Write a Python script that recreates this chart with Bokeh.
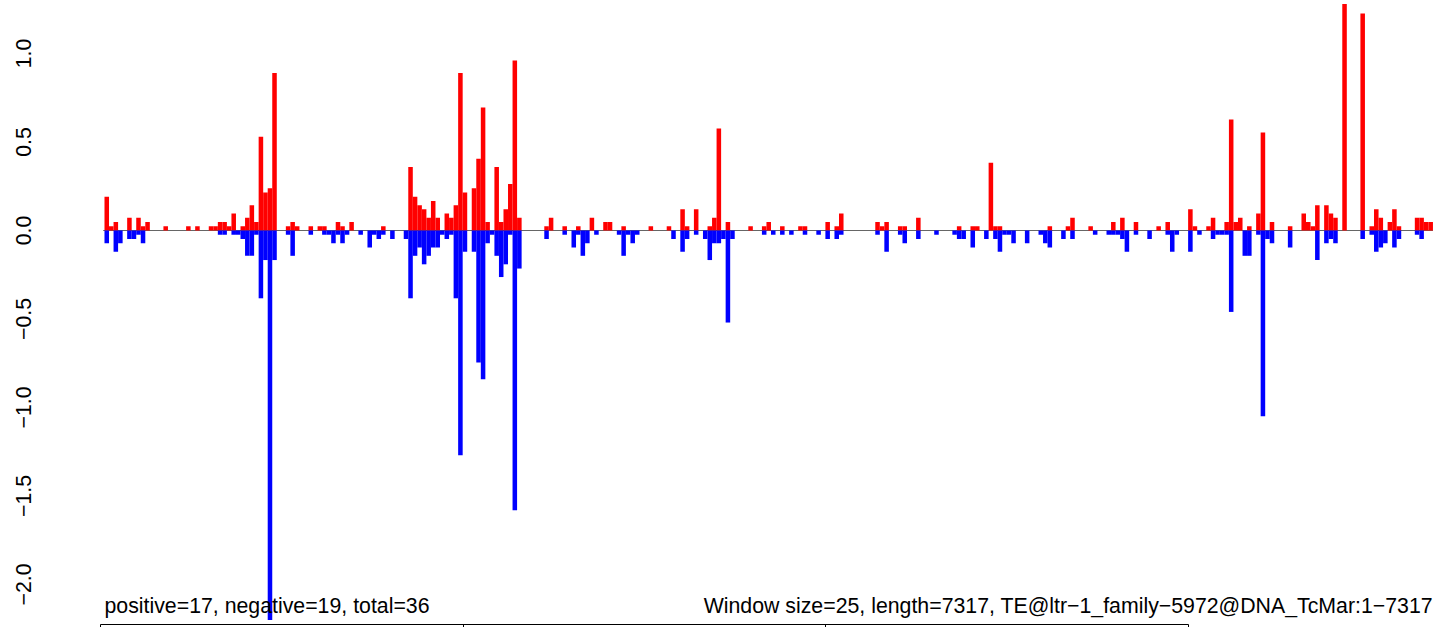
import math
from bokeh.plotting import figure
from bokeh.models import Range1d, FixedTicker, Label, LinearAxis, ColumnDataSource
from bokeh.embed import file_html
from bokeh.resources import INLINE

WINDOW = 25
N_BINS = 293
X_OFFSET = 22

pos_bins = [0, 1, 2, 5, 7, 8, 9, 13, 18, 20, 23, 24, 25, 26, 27, 28, 30, 31, 32, 33, 34, 35, 36, 37,
            40, 41, 42, 45, 47, 48, 51, 52, 54, 61, 67, 68, 69, 70, 71, 72, 73, 75, 76, 77, 78, 79,
            81, 82, 83, 84, 86, 87, 88, 89, 90, 91, 97, 98, 101, 104, 107, 110, 111, 114, 120, 124,
            127, 128, 130, 133, 134, 135, 137, 142, 145, 146, 149, 153, 154, 159, 161, 162, 170, 171,
            172, 175, 176, 179, 188, 191, 192, 195, 196, 197, 208, 212, 213, 217, 222, 224, 227, 232,
            234, 239, 240, 243, 244, 247, 248, 249, 250, 252, 254, 255, 257, 261, 264, 265, 266, 267,
            269, 270, 271, 273, 277, 279, 280, 281, 283, 284, 285, 289, 290, 291, 292]
pos_vals = [0.191, 0.024, 0.048, 0.072, 0.072, 0.024, 0.048, 0.024, 0.024, 0.024, 0.024, 0.024, 0.048,
            0.048, 0.024, 0.096, 0.024, 0.072, 0.143, 0.048, 0.53, 0.215, 0.239, 0.89,
            0.024, 0.048, 0.024, 0.024, 0.024, 0.024, 0.048, 0.024, 0.048, 0.024, 0.359, 0.191, 0.143,
            0.12, 0.072, 0.167, 0.072, 0.096, 0.072, 0.143, 0.89, 0.215,
            0.239, 0.406, 0.695, 0.048, 0.359, 0.048, 0.12, 0.263, 0.96, 0.072, 0.024, 0.072, 0.024,
            0.024, 0.072, 0.048, 0.048, 0.024, 0.024, 0.024,
            0.12, 0.024, 0.12, 0.024, 0.072, 0.576, 0.048, 0.024, 0.024, 0.048, 0.024, 0.024, 0.024,
            0.048, 0.024, 0.096, 0.048, 0.024,
            0.048, 0.024, 0.024, 0.072, 0.024, 0.024, 0.024, 0.383, 0.024, 0.024, 0.024, 0.024, 0.072,
            0.024, 0.048, 0.072, 0.048, 0.024,
            0.048, 0.12, 0.024, 0.024, 0.072, 0.048, 0.627, 0.048, 0.072, 0.024, 0.096, 0.554, 0.048,
            0.024, 0.096, 0.048, 0.024, 0.143,
            0.143, 0.096, 0.072, 1.28, 1.226, 0.024, 0.12, 0.072, 0.048, 0.12, 0.024, 0.072, 0.072,
            0.048, 0.048]

neg_bins = [0, 2, 3, 5, 6, 7, 8, 25, 26, 28, 29, 30, 31, 32, 33, 34, 35, 36, 37, 40, 41, 45, 48, 49,
            50, 51, 52, 53, 56, 58, 59, 60, 61, 63, 66, 67, 68, 69, 70, 71, 72, 73, 74, 75, 76, 77,
            78, 79, 81, 82, 83, 84, 85, 86, 87, 88, 89, 90, 91, 97, 101, 103, 104, 105, 106, 108, 113,
            114, 115, 116, 117, 125, 127, 128, 130, 132, 133, 134, 135, 136, 137, 138, 145, 147, 149,
            151, 154, 157, 159, 161, 162, 170, 172, 175, 176, 179, 183, 187, 188, 189, 191, 194, 196,
            197, 198, 199, 200, 203, 206, 207, 208, 211, 213, 218, 221, 222, 223, 224, 225, 227, 230,
            234, 235, 236, 239, 241, 244, 245, 246, 247, 248, 251, 252, 254, 255, 256, 257, 261, 267,
            269, 270, 271, 277, 279, 280, 281, 282, 284, 285, 289, 290]
neg_vals = [0.072, 0.12, 0.072, 0.048, 0.048, 0.024, 0.072, 0.024, 0.024, 0.024, 0.024, 0.048, 0.143,
            0.143, 0.024, 0.383, 0.167, 2.2, 0.167, 0.024, 0.143, 0.024, 0.024, 0.024,
            0.072, 0.024, 0.072, 0.024, 0.024, 0.096, 0.024, 0.048, 0.024, 0.048, 0.048, 0.383, 0.143,
            0.096, 0.191, 0.143, 0.096, 0.096, 0.024, 0.048, 0.024, 0.383,
            1.27, 0.12, 0.12, 0.746, 0.84, 0.072, 0.024, 0.143, 0.263, 0.191, 0.024, 1.58, 0.215,
            0.048, 0.024, 0.096, 0.024, 0.143, 0.072, 0.024, 0.024,
            0.143, 0.024, 0.072, 0.024, 0.048, 0.12, 0.048, 0.024, 0.048, 0.167, 0.072, 0.072, 0.048,
            0.52, 0.048, 0.024, 0.024, 0.024,
            0.024, 0.024, 0.024, 0.048, 0.048, 0.024, 0.024, 0.12, 0.024, 0.072, 0.048, 0.024, 0.024,
            0.048, 0.048, 0.096, 0.048, 0.048,
            0.12, 0.024, 0.024, 0.072, 0.072, 0.024, 0.072, 0.096, 0.048, 0.048, 0.024, 0.024, 0.024,
            0.024, 0.048, 0.12, 0.024, 0.048,
            0.024, 0.12, 0.024, 0.12, 0.024, 0.048, 0.024, 0.024, 0.024, 0.46, 0.143, 0.143, 0.024,
            1.05, 0.048, 0.072, 0.096, 0.167,
            0.072, 0.048, 0.072, 0.048, 0.024, 0.12, 0.096, 0.072, 0.096, 0.048, 0.024, 0.048]

y_ticks = [-2.0, -1.5, -1.0, -0.5, 0.0, 0.5, 1.0]
y_tick_labels = ["\u22122.0", "\u22121.5", "\u22121.0", "\u22120.5", "0.0", "0.5", "1.0"]
x_ticks = [0, 2000, 4000, 6000]

left_text = "positive=17, negative=19, total=36"
right_text = "Window size=25, length=7317, TE@ltr\u22121_family\u22125972@DNA_TcMar:1\u22127317"

PX_PER_UNIT = 177.0
ZERO_PX = 230.0
FRAME_BOTTOM_PX = 624.0
y_top = ZERO_PX / PX_PER_UNIT
y_bot = -(FRAME_BOTTOM_PX - ZERO_PX) / PX_PER_UNIT

p = figure(width=1441, height=627, output_backend="svg", toolbar_location=None,
           x_range=Range1d(0, 7350), y_range=Range1d(y_bot, y_top),
           x_axis_location=None, y_axis_location=None,
           min_border_left=100, min_border_right=8, min_border_top=0, min_border_bottom=0)
p.grid.visible = False
p.outline_line_color = None
p.background_fill_color = "white"
p.border_fill_color = "white"

# zero line
p.segment(x0=[15], y0=[0], x1=[X_OFFSET + N_BINS * WINDOW], y1=[0], line_color="#666666", line_width=1.2)

pos_src = ColumnDataSource(dict(
    left=[X_OFFSET + b * WINDOW for b in pos_bins],
    right=[X_OFFSET + (b + 1) * WINDOW for b in pos_bins],
    top=pos_vals, bottom=[0] * len(pos_vals)))
neg_src = ColumnDataSource(dict(
    left=[X_OFFSET + b * WINDOW for b in neg_bins],
    right=[X_OFFSET + (b + 1) * WINDOW for b in neg_bins],
    top=[0] * len(neg_vals), bottom=[-v for v in neg_vals]))
p.quad(left="left", right="right", top="top", bottom="bottom", source=pos_src,
       fill_color="#FF0000", line_color=None)
p.quad(left="left", right="right", top="top", bottom="bottom", source=neg_src,
       fill_color="#0000FF", line_color=None)

yaxis = LinearAxis(ticker=FixedTicker(ticks=y_ticks),
                   major_label_overrides={t: l for t, l in zip(y_ticks, y_tick_labels)})
yaxis.axis_line_color = None
yaxis.major_tick_line_color = None
yaxis.minor_tick_line_color = None
yaxis.major_tick_out = 0
yaxis.major_tick_in = 0
yaxis.major_label_orientation = "parallel"
yaxis.major_label_standoff = 70
yaxis.major_label_text_font = "Liberation Sans"
yaxis.major_label_text_font_size = "21.3px"
yaxis.major_label_text_color = "black"
p.add_layout(yaxis, "left")

xaxis = LinearAxis(ticker=FixedTicker(ticks=x_ticks),
                   major_label_overrides={t: "" for t in x_ticks})
xaxis.bounds = (0, 6000)
xaxis.axis_line_color = "black"
xaxis.axis_line_width = 1
xaxis.major_tick_line_color = "black"
xaxis.major_tick_out = 3
xaxis.major_tick_in = 0
xaxis.minor_tick_line_color = None
xaxis.major_label_standoff = 0
xaxis.major_label_text_font_size = "1px"
p.add_layout(xaxis, "below")

base_y = -(605.0 - ZERO_PX) / PX_PER_UNIT
p.add_layout(Label(x=X_OFFSET, y=base_y, text=left_text, text_font="Liberation Sans",
                   text_font_size="21.3px", text_color="black", text_align="left",
                   text_baseline="alphabetic"))
p.add_layout(Label(x=X_OFFSET + N_BINS * WINDOW, y=base_y, text=right_text, text_font="Liberation Sans",
                   text_font_size="21.3px", text_color="black", text_align="right",
                   text_baseline="alphabetic"))

open("out.html", "w").write(file_html(p, INLINE))
